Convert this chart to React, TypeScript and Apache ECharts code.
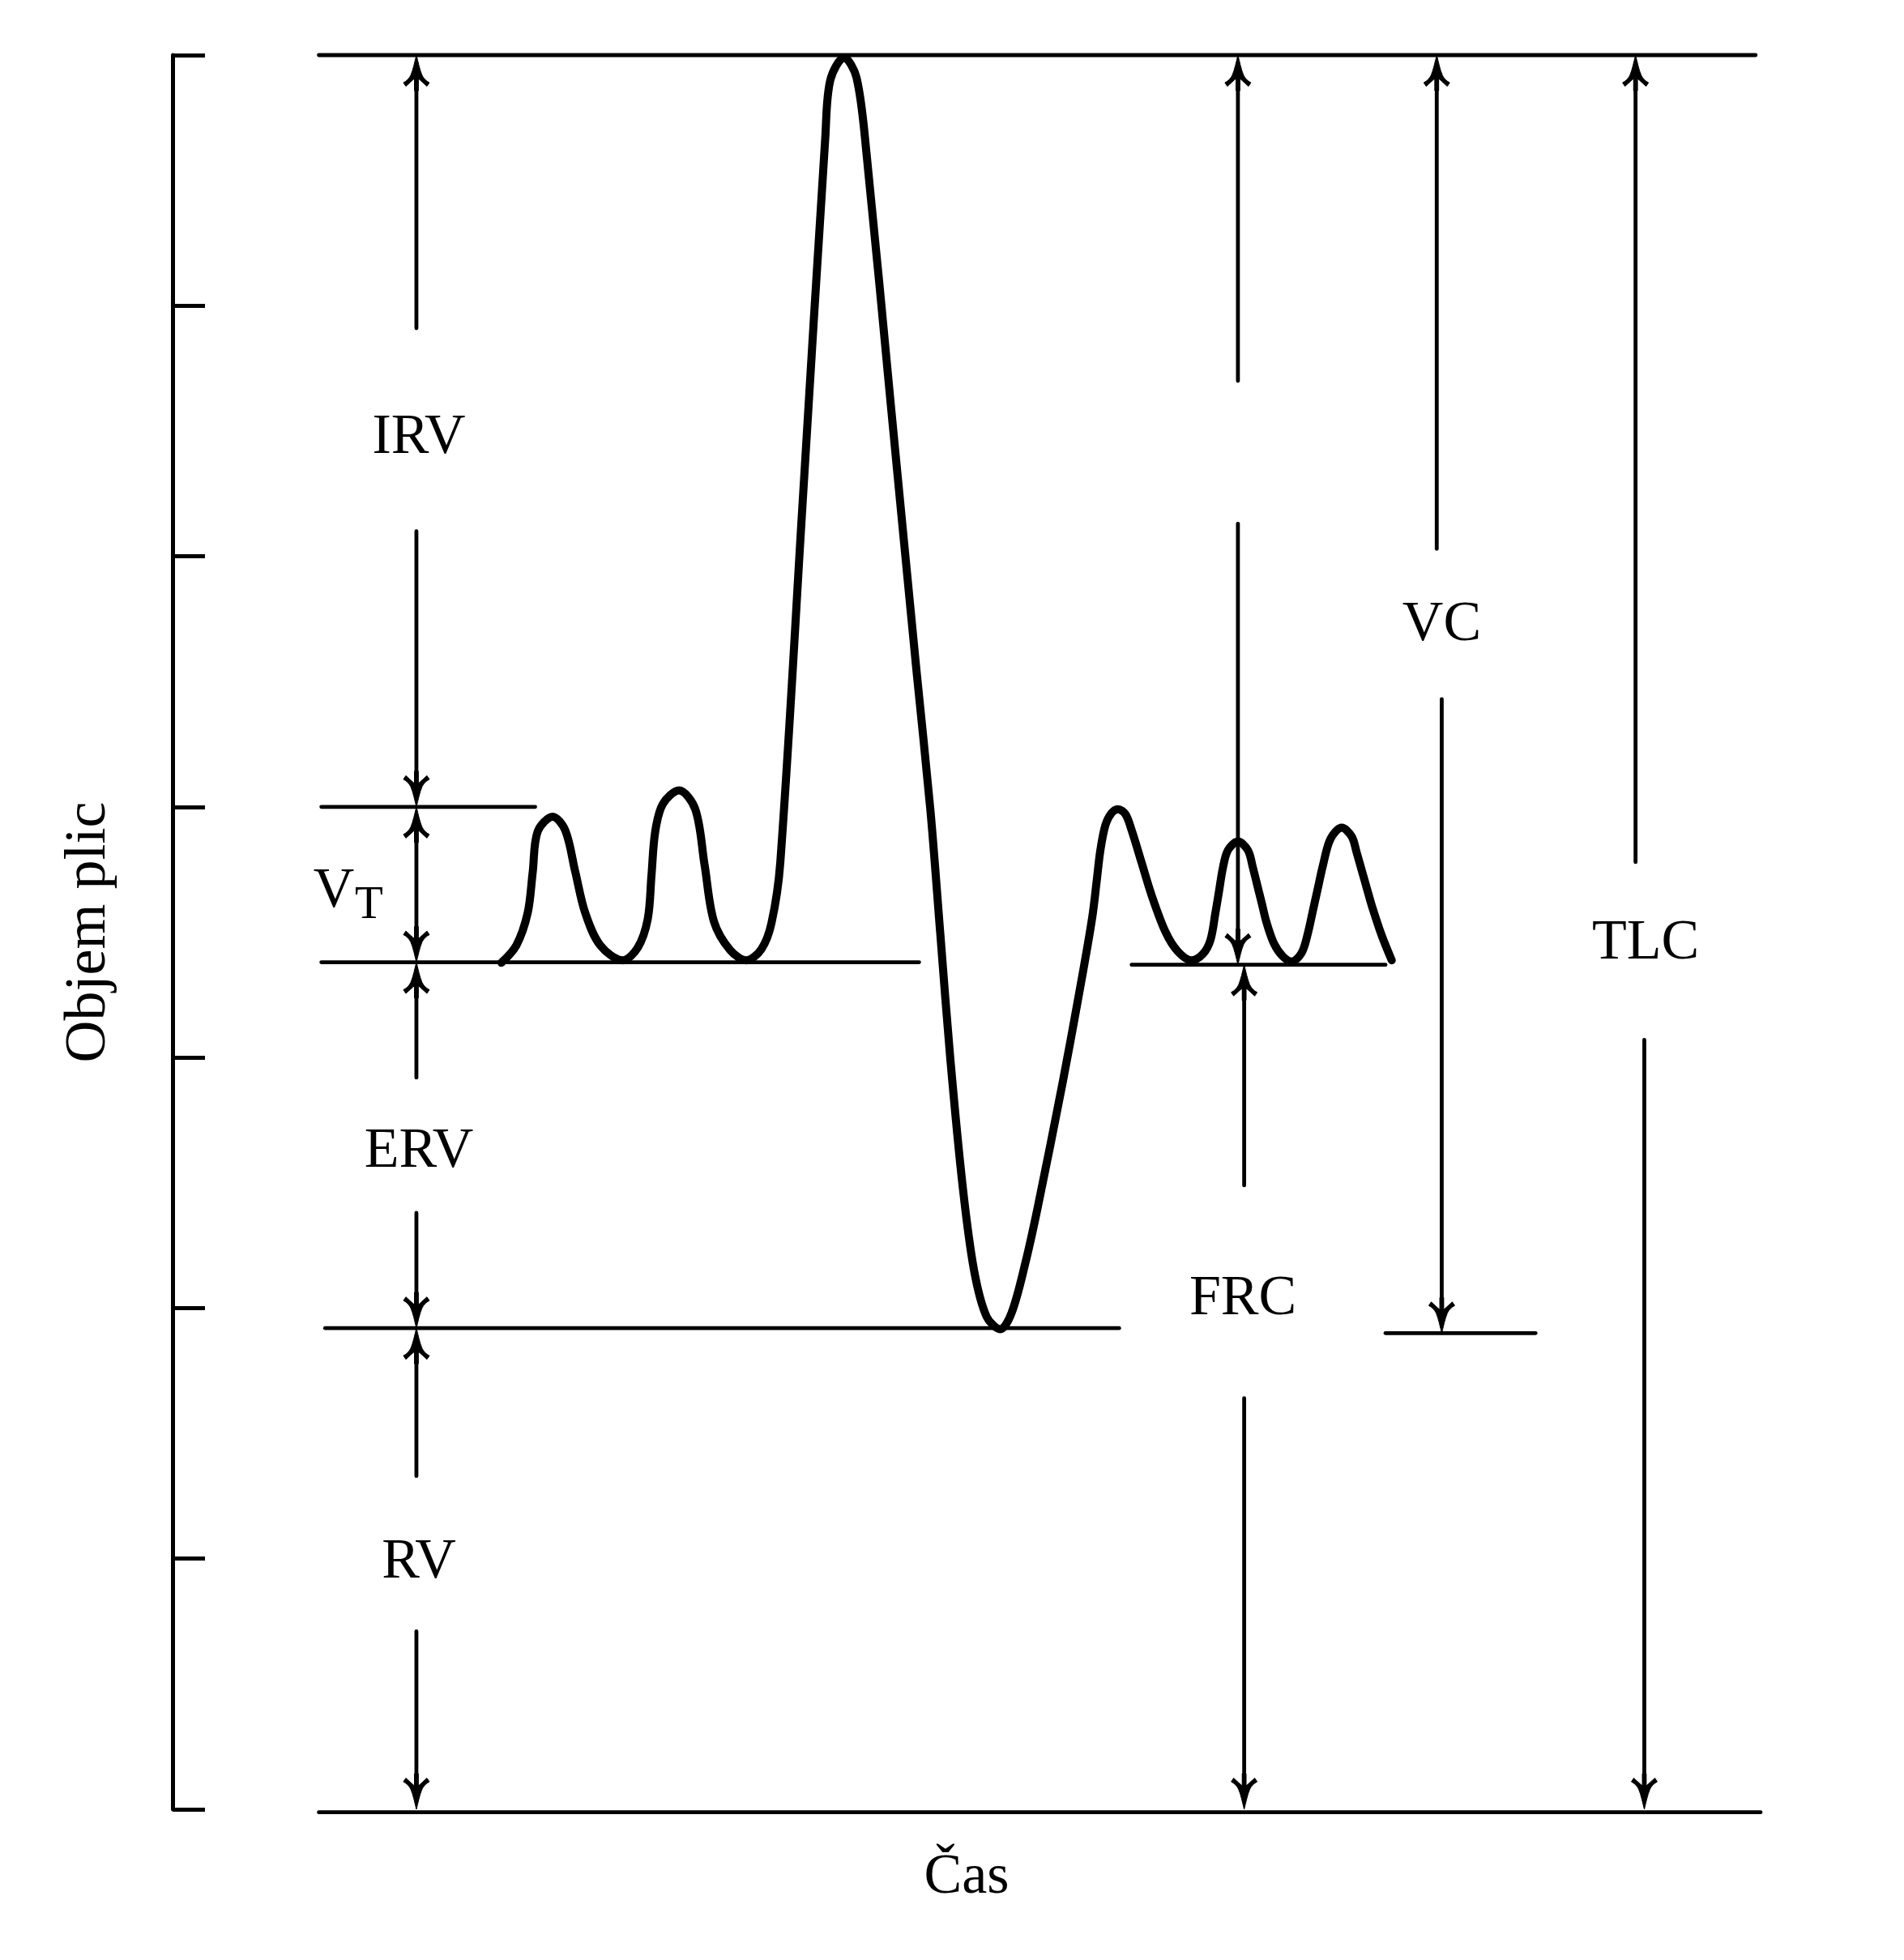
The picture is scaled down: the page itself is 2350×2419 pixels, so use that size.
import React, { useEffect, useRef } from "react";
import * as echarts from "echarts";

const FONT = "'Liberation Serif', 'Times New Roman', Times, serif";

// Axis ranges (time: arbitrary units, volume: arbitrary litres)
const timeMin = 0;
const timeMax = 1270;
const volumeMin = 0;
const volumeMax = 7;
const volumeInterval = 1;

// Spirogram trace (troughs, flanks, shoulders, peaks)
const curveTime = [
  263, 275, 284, 288, 292, 304, 314, 322, 330, 342, 360, 372, 380, 383, 386, 392, 405, 418, 425.5, 433,
  446, 459, 471, 479, 486, 504, 522, 526, 537, 547, 555, 575, 595, 606, 614, 622, 632, 641, 651, 662,
  671, 682, 692, 712, 724, 732, 736, 739, 742, 746, 751, 756, 762, 767, 775, 783, 794, 804, 815, 824,
  830, 834, 837, 840, 844, 852, 860, 864, 867, 871, 875, 881, 888, 895, 903, 908, 912, 916, 920, 926,
  935, 943, 947, 951, 955, 959, 967, 975,
];
const curveVolume = [
  3.378, 3.448, 3.577, 3.739, 3.902, 3.961, 3.907, 3.742, 3.577, 3.448, 3.388, 3.438, 3.552, 3.727, 3.902, 4.011, 4.066, 3.991, 3.767, 3.542,
  3.428, 3.388, 3.433, 3.537, 3.777, 5.224, 6.671, 6.9, 6.99, 6.91, 6.606, 5.573, 4.54, 3.991, 3.492, 2.994, 2.48, 2.15, 1.966, 1.916,
  1.981, 2.18, 2.405, 2.904, 3.228, 3.453, 3.577, 3.702, 3.827, 3.927, 3.976, 3.991, 3.971, 3.907, 3.777, 3.647, 3.502, 3.423, 3.388, 3.413,
  3.468, 3.577, 3.667, 3.757, 3.827, 3.862, 3.827, 3.757, 3.697, 3.617, 3.537, 3.453, 3.403, 3.383, 3.418, 3.497, 3.587, 3.677, 3.767, 3.872,
  3.917, 3.882, 3.817, 3.747, 3.677, 3.607, 3.487, 3.388,
];

// Horizontal reference levels: [timeFrom, timeTo, volume]
const levelLines = [
  [117, 1266, 7.0],
  [119, 290, 4.0],
  [119, 597, 3.38],
  [767, 970, 3.37],
  [122, 757, 1.92],
  [970, 1090, 1.9],
  [117, 1270, -0.012],
];

// Dimension segments: [time, volumeTop, volumeBottom, arrowTop, arrowBottom]
const dimensionSegments = [
  [195, 7.0, 5.91, 1, 0],
  [195, 5.1, 4.0, 0, 1],
  [195, 4.0, 3.38, 1, 1],
  [195, 3.38, 2.92, 1, 0],
  [195, 2.38, 1.92, 0, 1],
  [195, 1.92, 1.33, 1, 0],
  [195, 0.71, 0.0, 0, 1],
  [852, 7.0, 5.7, 1, 0],
  [852, 5.13, 3.37, 0, 1],
  [857, 3.37, 2.49, 1, 0],
  [857, 1.64, 0.0, 0, 1],
  [1011, 7.0, 5.03, 1, 0],
  [1015, 4.43, 1.9, 0, 1],
  [1170, 7.0, 3.78, 1, 0],
  [1177, 3.07, 0.0, 0, 1],
];

// Annotation labels and their anchor points (time, volume)
const labelNames = ["IRV", "V", "T", "ERV", "RV", "FRC", "VC", "TLC"];
const labelTime = [197, 129, 157, 197, 197, 856, 1015, 1178];
const labelVolume = [5.49, 3.679, 3.62, 2.64, 1.0, 2.05, 4.742, 3.472];

const yAxisTitle = "Objem plic";
const xAxisTitle = "Čas";

function arrowPath(px: number, py: number, dir: number): string {
  const p = (u: number, v: number) => `${(px + u).toFixed(2)} ${(py + dir * v).toFixed(2)}`;
  return (
    `M${p(0, 0)} C${p(2, 8)} ${p(4, 18)} ${p(7, 25)} C${p(9, 29)} ${p(12, 32)} ${p(16, 34)} ` +
    `L${p(13, 38.5)} C${p(9, 35)} ${p(5, 31)} ${p(2.4, 29)} L${p(2.4, 44)} L${p(-2.4, 44)} L${p(-2.4, 29)} ` +
    `C${p(-5, 31)} ${p(-9, 35)} ${p(-13, 38.5)} L${p(-16, 34)} C${p(-12, 32)} ${p(-9, 29)} ${p(-7, 25)} ` +
    `C${p(-4, 18)} ${p(-2, 8)} ${p(0, 0)} Z`
  );
}

export default function App() {
  const ref = useRef<HTMLDivElement>(null);

  useEffect(() => {
    if (!ref.current) return;
    const chart = echarts.init(ref.current, null, { renderer: "svg" });

    const curveData = curveTime.map((t, i) => [t, curveVolume[i]]);

    const option: any = {
      animation: false,
      backgroundColor: "#ffffff",
      grid: { left: 213, right: 177, top: 68, bottom: 186, containLabel: false },
      xAxis: {
        type: "value",
        min: timeMin,
        max: timeMax,
        axisLine: { show: false },
        axisTick: { show: false },
        axisLabel: { show: false },
        splitLine: { show: false },
        name: xAxisTitle,
        nameLocation: "middle",
        nameGap: 44,
        nameTextStyle: { fontFamily: FONT, fontSize: 70, color: "#000" },
      },
      yAxis: {
        type: "value",
        min: volumeMin,
        max: volumeMax,
        interval: volumeInterval,
        axisLine: { show: true, lineStyle: { color: "#000", width: 5 } },
        axisTick: { show: true, inside: true, length: 40, lineStyle: { color: "#000", width: 5 } },
        axisLabel: { show: false },
        splitLine: { show: false },
        name: yAxisTitle,
        nameLocation: "middle",
        nameGap: 72,
        nameTextStyle: { fontFamily: FONT, fontSize: 72, color: "#000" },
      },
      series: [
        {
          type: "custom",
          name: "levels",
          clip: false,
          silent: true,
          z: 2,
          data: levelLines,
          renderItem: (params: any, api: any) => {
            const a = api.coord([api.value(0), api.value(2)]);
            const b = api.coord([api.value(1), api.value(2)]);
            return {
              type: "line",
              shape: { x1: a[0], y1: a[1], x2: b[0], y2: b[1] },
              style: { stroke: "#000", lineWidth: 4.8, lineCap: "round" },
            };
          },
        },
        {
          type: "custom",
          name: "dimensions",
          clip: false,
          silent: true,
          z: 3,
          data: dimensionSegments,
          renderItem: (params: any, api: any) => {
            const x = api.value(0);
            const top = api.coord([x, api.value(1)]);
            const bot = api.coord([x, api.value(2)]);
            const aTop = api.value(3) === 1;
            const aBot = api.value(4) === 1;
            const children: any[] = [];
            const y1 = aTop ? top[1] + 30 : top[1];
            const y2 = aBot ? bot[1] - 30 : bot[1];
            children.push({
              type: "line",
              shape: { x1: top[0], y1, x2: bot[0], y2 },
              style: { stroke: "#000", lineWidth: 4.8, lineCap: "round" },
            });
            if (aTop) {
              children.push({
                type: "path",
                shape: { pathData: arrowPath(top[0], top[1], 1) },
                style: { fill: "#000", stroke: "#000", lineWidth: 1 },
              });
            }
            if (aBot) {
              children.push({
                type: "path",
                shape: { pathData: arrowPath(bot[0], bot[1], -1) },
                style: { fill: "#000", stroke: "#000", lineWidth: 1 },
              });
            }
            return { type: "group", children };
          },
        },
        {
          type: "line",
          name: "spirogram",
          data: curveData,
          showSymbol: false,
          symbol: "none",
          smooth: 0.33,
          clip: false,
          z: 4,
          lineStyle: { color: "#000", width: 10, cap: "round", join: "round" },
        },
        {
          type: "custom",
          name: "labels",
          clip: false,
          silent: true,
          z: 5,
          data: labelTime.map((t, i) => [t, labelVolume[i]]),
          renderItem: (params: any, api: any) => {
            const p = api.coord([api.value(0), api.value(1)]);
            const name = labelNames[params.dataIndex];
            const size = name === "T" ? 57 : 70;
            return {
              type: "text",
              x: p[0],
              y: p[1],
              style: {
                text: name,
                fontFamily: FONT,
                fontSize: size,
                fill: "#000",
                align: "center",
                verticalAlign: "middle",
              },
            };
          },
        },
      ],
    };

    chart.setOption(option);
    return () => chart.dispose();
  }, []);

  return (
    <div
      ref={ref}
      style={{ position: "absolute", left: 0, top: 0, width: 2350, height: 2419, background: "#fff" }}
    />
  );
}
